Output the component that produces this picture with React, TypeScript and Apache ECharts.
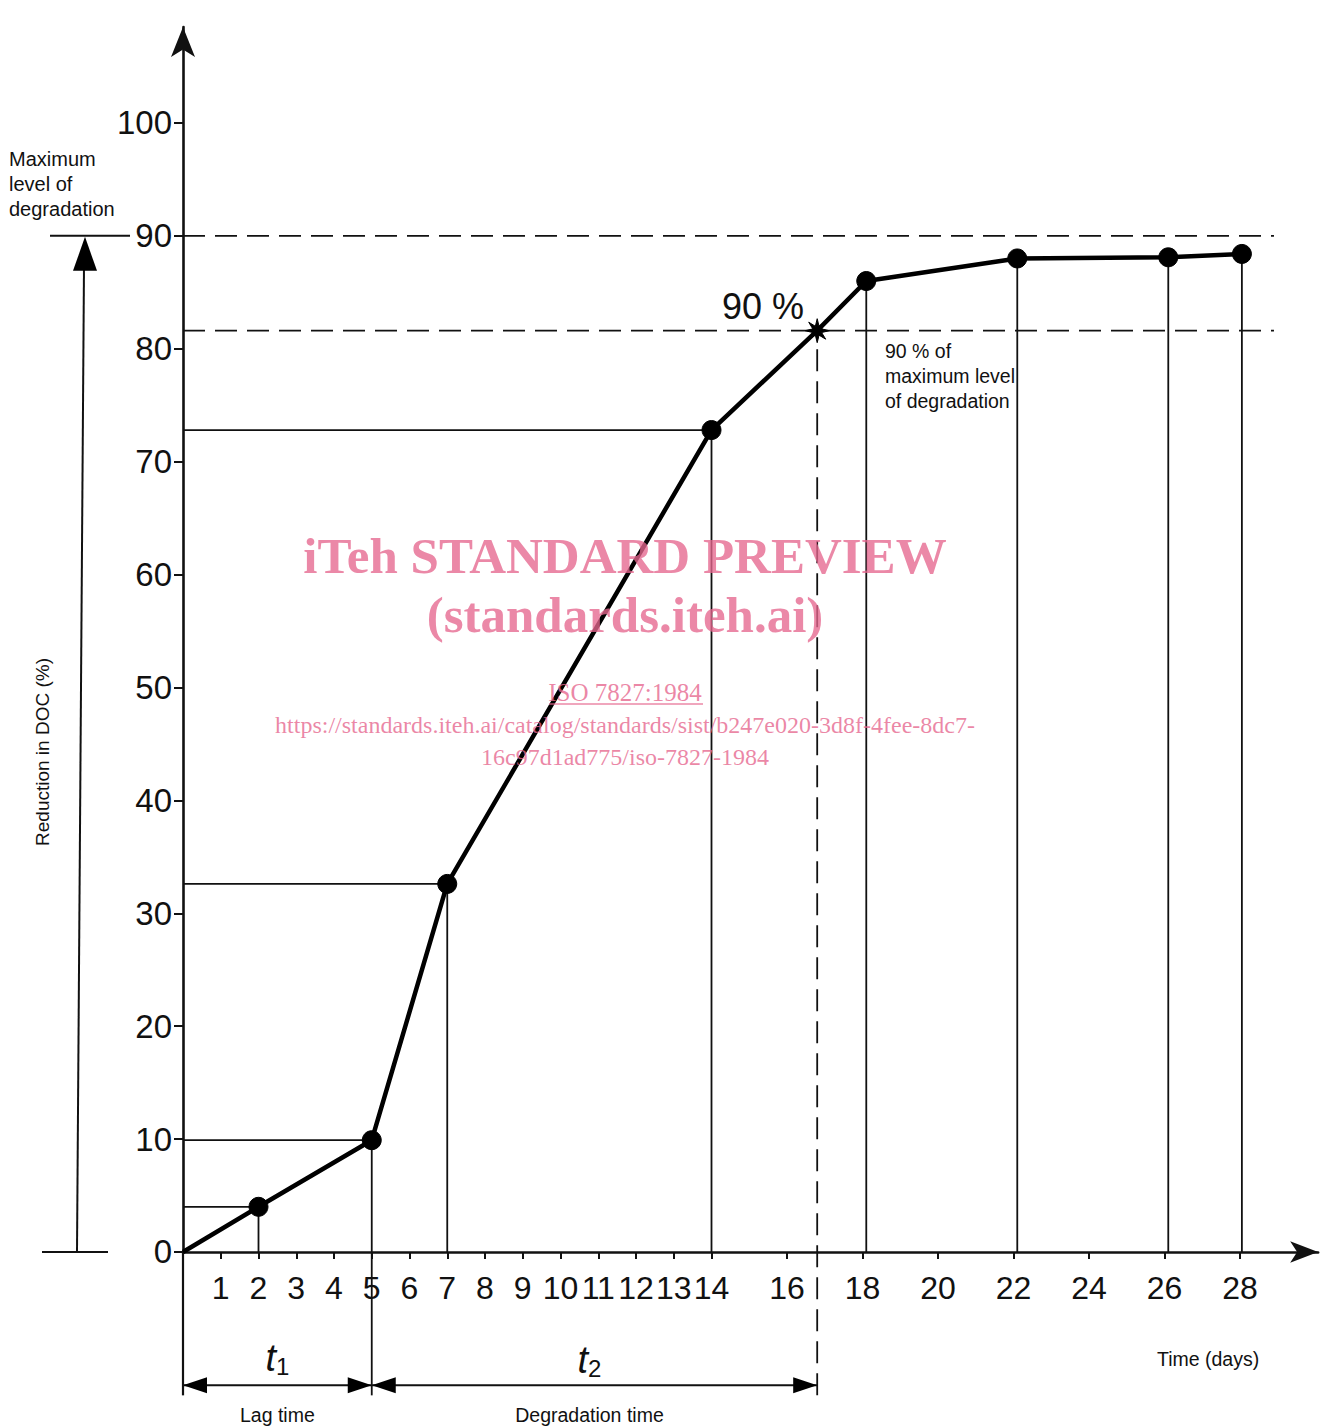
import React, { useEffect, useRef } from "react";
import * as echarts from "echarts";

// ---------- data ----------
const days = [0, 2, 5, 7, 14, 16.8, 18.1, 22.1, 26.1, 28.05];
const docReduction = [0, 4, 9.9, 32.6, 72.8, 81.6, 86, 88, 88.1, 88.4];
const xTickValues = [1, 2, 3, 4, 5, 6, 7, 8, 9, 10, 11, 12, 13, 14, 16, 18, 20, 22, 24, 26, 28];
const yTickValues = [0, 10, 20, 30, 40, 50, 60, 70, 80, 90, 100];
const maxLevel = 90;
const ninetyPctLevel = 81.6;
const lagEnd = 5;
const degradationEnd = 16.8;
const levelLineEnd = 28.9;
const horizontalGuideIdx = [1, 2, 3, 4];
const verticalDropIdx = [1, 3, 4, 6, 7, 8, 9];
const extendedDropIdx = [2];
const starIdx = 5;

// axis extents
const X_MIN = 0;
const X_MAX = 30.07;
const Y_MIN = 0;
const Y_MAX = 108.5;
const BELOW_AXIS = -12.7;
const ARROW_LEVEL = -11.8;

const NUM = "'Liberation Sans', Arial, Helvetica, sans-serif";
const SANS = "'Liberation Sans', Arial, Helvetica, sans-serif";
const SERIF = "'Liberation Serif', 'Times New Roman', serif";
const PINK = "rgba(230, 102, 142, 0.78)";

const starPath = (() => {
  let d = "";
  for (let k = 0; k < 16; k++) {
    const r = k % 2 === 0 ? 10 : 4;
    const a = (k * Math.PI) / 8 - Math.PI / 2;
    d += (k === 0 ? "M" : "L") + (r * Math.cos(a)).toFixed(2) + " " + (r * Math.sin(a)).toFixed(2) + " ";
  }
  return "path://" + d + "Z";
})();

function seg(points: number[][], dashed: boolean, width = 1.8) {
  return {
    type: "line",
    data: points,
    symbol: "none",
    silent: true,
    clip: false,
    z: 2,
    lineStyle: { color: "#111", width, type: dashed ? [22, 10] : "solid" },
  };
}

export default function App() {
  const ref = useRef<HTMLDivElement>(null);

  useEffect(() => {
    if (!ref.current) return;
    const chart = echarts.init(ref.current, null, { renderer: "svg" });

    const mainData = days.map((d, i) => {
      const item: any = { value: [d, docReduction[i]] };
      if (i === 0) item.symbol = "none";
      if (i === starIdx) {
        item.symbol = starPath;
        item.symbolSize = 24;
      }
      return item;
    });

    const guideSeries: any[] = [];
    horizontalGuideIdx.forEach((i) => guideSeries.push(seg([[0, docReduction[i]], [days[i], docReduction[i]]], false)));
    verticalDropIdx.forEach((i) => guideSeries.push(seg([[days[i], 0], [days[i], docReduction[i]]], false)));
    extendedDropIdx.forEach((i) => guideSeries.push(seg([[days[i], BELOW_AXIS], [days[i], docReduction[i]]], false)));
    guideSeries.push(seg([[0, BELOW_AXIS], [0, 0]], false, 2.2));
    guideSeries.push(seg([[0, maxLevel], [levelLineEnd, maxLevel]], true));
    guideSeries.push(seg([[0, ninetyPctLevel], [levelLineEnd, ninetyPctLevel]], true));
    guideSeries.push(seg([[degradationEnd, BELOW_AXIS], [degradationEnd, ninetyPctLevel]], true));

    chart.setOption({
      animation: false,
      backgroundColor: "#fff",
      grid: {
        left: 183,
        top: 27,
        width: (X_MAX - X_MIN) * 37.75,
        height: (Y_MAX - Y_MIN) * 11.29,
        containLabel: false,
        outerBoundsMode: "none",
      },
      xAxis: {
        type: "value",
        min: X_MIN,
        max: X_MAX,
        axisLine: {
          onZero: false,
          lineStyle: { color: "#111", width: 2.6 },
          symbol: ["none", "arrow"],
          symbolSize: [16, 28],
        },
        axisTick: { show: true, length: 7, lineStyle: { color: "#111", width: 2 }, customValues: xTickValues },
        axisLabel: {
          customValues: xTickValues,
          margin: 20,
          fontSize: 32,
          fontFamily: NUM,
          color: "#111",
        },
        splitLine: { show: false },
      },
      yAxis: {
        type: "value",
        min: Y_MIN,
        max: Y_MAX,
        axisLine: {
          onZero: false,
          lineStyle: { color: "#111", width: 2.6 },
          symbol: ["none", "arrow"],
          symbolSize: [18, 30],
        },
        axisTick: { show: true, length: 9, lineStyle: { color: "#111", width: 2 }, customValues: yTickValues },
        axisLabel: {
          customValues: yTickValues,
          margin: 11,
          fontSize: 33,
          fontFamily: NUM,
          color: "#111",
        },
        splitLine: { show: false },
      },
      series: [
        ...guideSeries,
        {
          type: "line",
          data: mainData,
          symbol: "circle",
          symbolSize: 19,
          showAllSymbol: true,
          z: 5,
          itemStyle: { color: "#000", borderColor: "#000", borderWidth: 1 },
          lineStyle: { color: "#000", width: 4.5 },
        },
      ],
    });

    const px = (x: number, y: number) => chart.convertToPixel({ gridIndex: 0 }, [x, y]) as number[];
    const y0 = px(0, 0)[1];
    const y90 = px(0, maxLevel)[1];
    const xOrigin = px(0, 0)[0];
    const xLag = px(lagEnd, 0)[0];
    const xDeg = px(degradationEnd, 0)[0];
    const yArrow = px(0, ARROW_LEVEL)[1];
    const arrowL = 24;
    const arrowH = 8;
    const black = { fill: "#000" };
    const lineStyle = { stroke: "#111", lineWidth: 2 };

    const tri = (tipX: number, tipY: number, dir: number) => ({
      type: "polygon",
      shape: { points: [[tipX, tipY], [tipX + dir * arrowL, tipY - arrowH], [tipX + dir * arrowL, tipY + arrowH]] },
      style: black,
      silent: true,
    });

    const plainText = (x: number, y: number, text: string, opts: any = {}) => ({
      type: "text",
      x,
      y,
      silent: true,
      style: {
        text,
        fontFamily: SANS,
        fontSize: 19,
        fill: "#111",
        lineHeight: 25,
        ...opts,
      },
    });

    const tLabel = (x: number, y: number, sub: string) => ({
      type: "text",
      x,
      y,
      silent: true,
      style: {
        text: "{t|t}{s|" + sub + "}",
        align: "center",
        verticalAlign: "middle",
        rich: {
          t: { fontFamily: NUM, fontStyle: "italic", fontSize: 38, fill: "#111" },
          s: { fontFamily: NUM, fontSize: 24, fill: "#111", padding: [16, 0, 0, 0] },
        },
      },
    });

    chart.setOption({
      graphic: [
        // left "maximum level" arrow
        { type: "line", shape: { x1: 42, y1: y0, x2: 108, y2: y0 }, style: lineStyle, silent: true },
        { type: "line", shape: { x1: 50, y1: y90, x2: 130, y2: y90 }, style: lineStyle, silent: true },
        { type: "line", shape: { x1: 77, y1: y0, x2: 84, y2: y90 + 30 }, style: lineStyle, silent: true },
        {
          type: "polygon",
          shape: { points: [[85, y90 + 1], [73, y90 + 35], [97, y90 + 35]] },
          style: black,
          silent: true,
        },
        plainText(9, 146, "Maximum\nlevel of\ndegradation", { fontSize: 20 }),
        {
          type: "text",
          x: 42,
          y: 752,
          rotation: Math.PI / 2,
          silent: true,
          style: {
            text: "Reduction in DOC (%)",
            fontFamily: SANS,
            fontSize: 19,
            fill: "#111",
            align: "center",
            verticalAlign: "middle",
          },
        },
        // annotations
        plainText(722, 288, "90 %", { fontFamily: NUM, fontSize: 36, lineHeight: 36 }),
        plainText(885, 338, "90 % of\nmaximum level\nof degradation", { fontSize: 19.5 }),
        plainText(1157, 1346, "Time (days)", { fontSize: 19.5 }),
        // t1 / t2 dimension arrows
        { type: "line", shape: { x1: xOrigin, y1: yArrow, x2: xDeg, y2: yArrow }, style: lineStyle, silent: true },
        tri(xOrigin, yArrow, 1),
        tri(xLag, yArrow, -1),
        tri(xLag, yArrow, 1),
        tri(xDeg, yArrow, -1),
        tLabel((xOrigin + xLag) / 2, 1358, "1"),
        tLabel((xLag + xDeg) / 2 - 5, 1360, "2"),
        plainText((xOrigin + xLag) / 2, 1405, "Lag time", { align: "center", fontSize: 19.5, lineHeight: 20 }),
        plainText((xLag + xDeg) / 2 - 5, 1405, "Degradation time", { align: "center", fontSize: 19.5, lineHeight: 20 }),
        // watermark
        {
          type: "text",
          x: 625,
          y: 556,
          z: 100,
          silent: true,
          style: { text: "iTeh STANDARD PREVIEW", fontFamily: SERIF, fontWeight: "bold", fontSize: 51, fill: PINK, align: "center", verticalAlign: "middle" },
        },
        {
          type: "text",
          x: 625,
          y: 615,
          z: 100,
          silent: true,
          style: { text: "(standards.iteh.ai)", fontFamily: SERIF, fontWeight: "bold", fontSize: 51, fill: PINK, align: "center", verticalAlign: "middle" },
        },
        {
          type: "text",
          x: 625,
          y: 692,
          z: 100,
          silent: true,
          style: { text: "ISO 7827:1984", fontFamily: SERIF, fontSize: 25, fill: PINK, align: "center", verticalAlign: "middle" },
        },
        { type: "line", z: 100, silent: true, shape: { x1: 549, y1: 704, x2: 703, y2: 704 }, style: { stroke: PINK, lineWidth: 1.5 } },
        {
          type: "text",
          x: 625,
          y: 725,
          z: 100,
          silent: true,
          style: { text: "https://standards.iteh.ai/catalog/standards/sist/b247e020-3d8f-4fee-8dc7-", fontFamily: SERIF, fontSize: 24, fill: PINK, align: "center", verticalAlign: "middle" },
        },
        {
          type: "text",
          x: 625,
          y: 757,
          z: 100,
          silent: true,
          style: { text: "16c97d1ad775/iso-7827-1984", fontFamily: SERIF, fontSize: 24, fill: PINK, align: "center", verticalAlign: "middle" },
        },
      ],
    });

    return () => chart.dispose();
  }, []);

  return (
    <div
      ref={ref}
      style={{ position: "absolute", left: 0, top: 0, width: 1332, height: 1427, background: "#fff" }}
    />
  );
}
